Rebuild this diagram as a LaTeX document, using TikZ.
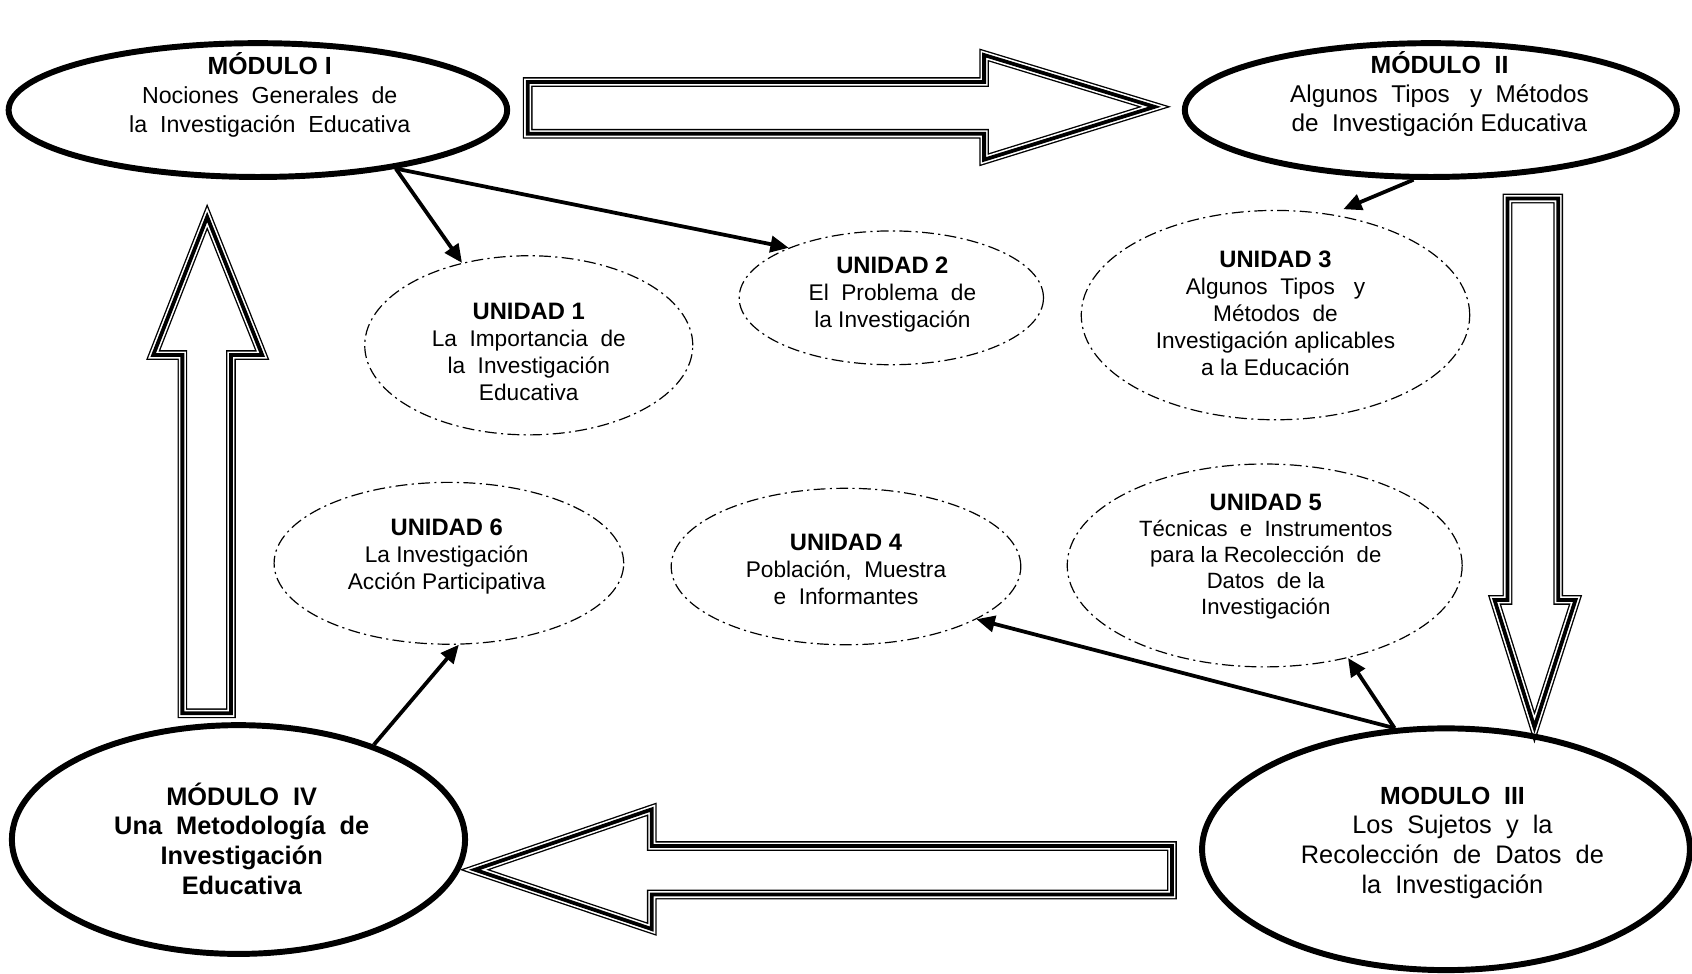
\documentclass[tikz,border=0pt]{standalone}
\usepackage{fontspec}
\setmainfont{Liberation Sans}
\usetikzlibrary{shapes.geometric,arrows.meta}
\newcommand\wsp{\ \ }
\newcommand\wspp{\ \ \ }
\begin{document}
\begin{tikzpicture}[x=1pt,y=-1pt,
 modulo/.style={ellipse,draw,line width=5.5pt,inner sep=0pt},
 unidad/.style={ellipse,draw,line width=1.1pt,inner sep=0pt,dash pattern=on 11pt off 4pt on 2pt off 4pt},
 mtext/.style={align=center,font=\fontsize{21.5}{27}\selectfont,inner sep=0pt},
 utext/.style={align=center,font=\fontsize{21}{25}\selectfont,inner sep=0pt},
 u5text/.style={align=center,font=\fontsize{20.5}{24}\selectfont,inner sep=0pt},
 link/.style={line width=3.5pt,-{Triangle[length=17pt,width=15pt]}},
 bigarrow/.style={line join=miter,line width=3.5pt,draw=black,
   preaction={draw=black,line width=9pt,line join=miter},
   preaction={draw=white,line width=6.5pt,line join=miter}}]
\useasboundingbox (0,0) rectangle (1568,902);

% big arrows
\path[bigarrow] (489,76) -- (912,76) -- (912,51) -- (1070,99) -- (912,148) -- (912,124) -- (489,124) -- cycle;
\path[bigarrow] (1397,184) -- (1444,184) -- (1444,556) -- (1460,556) -- (1422,674) -- (1385,556) -- (1397,556) -- cycle;
\path[bigarrow] (1086,784) -- (604,784) -- (604,750) -- (440,806) -- (604,861) -- (604,829) -- (1086,829) -- cycle;
\path[bigarrow] (169,661) -- (169,329) -- (142,329) -- (192,201) -- (243,329) -- (214,329) -- (214,661) -- cycle;

% modules
\node[modulo,minimum width=462pt,minimum height=124pt] (m1) at (239,102) {};
\node[modulo,minimum width=456pt,minimum height=124pt] (m2) at (1326,102) {};
\node[modulo,minimum width=452pt,minimum height=224pt] (m3) at (1340,787) {};
\node[modulo,minimum width=420pt,minimum height=212pt] (m4) at (221,778) {};

% units
\node[unidad,minimum width=304pt,minimum height=166pt] (u1) at (490,320) {};
\node[unidad,minimum width=282pt,minimum height=124pt] (u2) at (826,276) {};
\node[unidad,minimum width=360pt,minimum height=194pt] (u3) at (1182,292) {};
\node[unidad,minimum width=324pt,minimum height=145pt] (u4) at (784,525) {};
\node[unidad,minimum width=366pt,minimum height=188pt] (u5) at (1172,524) {};
\node[unidad,minimum width=324pt,minimum height=150pt] (u6) at (416,522) {};

% texts
\node[mtext] (t1) at (250,88) {{\fontsize{23}{27}\selectfont\bfseries MÓDULO I}\\Nociones\wsp Generales\wsp de\\la\wsp Investigación\wsp Educativa};
\node[mtext,font=\fontsize{22.5}{27}\selectfont] (t2) at (1334,87) {{\fontsize{23}{27}\selectfont\bfseries MÓDULO\wsp II}\\Algunos\wsp Tipos\wspp y\wsp Métodos\\de\wsp Investigación Educativa};
\node[mtext,font=\fontsize{23.5}{27.5}\selectfont] (t3) at (1346,781) {{\fontsize{23}{27.5}\selectfont\bfseries MODULO\wsp III}\\Los\wsp Sujetos\wsp y\wsp la\\Recolección\wsp de\wsp Datos\wsp de\\la\wsp Investigación};
\node[mtext,font=\fontsize{23.5}{27.5}\selectfont\bfseries] (t4) at (224,777) {MÓDULO\wsp IV\\Una\wsp Metodología\wsp de\\Investigación\\Educativa};

\node[utext] (tu1) at (490,326) {{\fontsize{22}{25}\selectfont\bfseries UNIDAD 1}\\La\wsp Importancia\wsp de\\la\wsp Investigación\\Educativa};
\node[utext] (tu2) at (827,273) {{\fontsize{22}{25}\selectfont\bfseries UNIDAD 2}\\El\wsp Problema\wsp de\\la Investigación};
\node[utext] (tu3) at (1182,290) {{\fontsize{22}{25}\selectfont\bfseries UNIDAD 3}\\Algunos\wsp Tipos\wspp y\\Métodos\wsp de\\Investigación aplicables\\a la Educación};
\node[utext] (tu4) at (784,528) {{\fontsize{22}{25}\selectfont\bfseries UNIDAD 4}\\Población,\wsp Muestra\\e\wsp Informantes};
\node[u5text] (tu5) at (1173,516) {{\fontsize{22}{24}\selectfont\bfseries UNIDAD 5}\\Técnicas\wsp e\wsp Instrumentos\\para la Recolección\wsp de\\Datos\wsp de la\\Investigación};
\node[utext] (tu6) at (414,516) {{\fontsize{22}{25}\selectfont\bfseries UNIDAD 6}\\La Investigación\\Acción Participativa};

% links
\draw[link] (m1.-23.2) -- (u1.129.3);
\draw[link] (m1.-23.2) -- (u2.154.3);
\draw[link,shorten >=12pt] (m2.-104.5) -- (u3.61.3);
\draw[link] (m3.113.2) -- (u5.-48.8);
\draw[link] (m3.113.2) -- (u4.-22.5);
\draw[link] (m4.35.3) -- (u6.-83.9);
\end{tikzpicture}
\end{document}
